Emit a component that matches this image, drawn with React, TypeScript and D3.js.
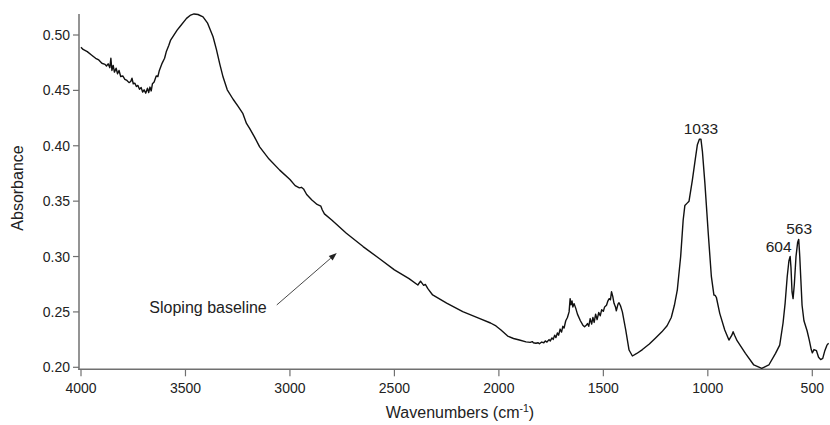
import React from "react";
import * as d3 from "d3";

// Spectrum (wavenumber in cm-1, absorbance)
const wavenumber = [
  4000, 3990, 3970, 3950, 3930, 3915, 3900, 3885, 3878, 3870, 3862, 3857, 3852, 3846, 3840, 3832, 3825, 3818, 3810, 3800,
  3790, 3780, 3770, 3762, 3756, 3750, 3742, 3735, 3728, 3720, 3712, 3705, 3698, 3690, 3682, 3676, 3670, 3664, 3658, 3650,
  3640, 3632, 3625, 3612, 3600, 3592, 3580, 3571, 3564, 3540, 3527, 3495, 3475, 3459, 3440, 3416, 3395, 3368, 3352, 3336,
  3320, 3300, 3272, 3248, 3225, 3208, 3193, 3170, 3145, 3100, 3049, 3000, 2975, 2955, 2945, 2935, 2920, 2895, 2870, 2860,
  2852, 2845, 2835, 2800, 2730, 2650, 2571, 2500, 2430, 2388, 2375, 2368, 2360, 2352, 2340, 2317, 2250, 2173, 2094, 2040,
  2014, 1990, 1958, 1930, 1902, 1870, 1850, 1840, 1835, 1823, 1812, 1806, 1795, 1785, 1778, 1770, 1760, 1754, 1746, 1740,
  1733, 1727, 1720, 1714, 1707, 1700, 1694, 1688, 1680, 1672, 1664, 1659, 1655, 1650, 1646, 1640, 1632, 1624, 1610, 1598,
  1590, 1582, 1576, 1570, 1563, 1556, 1550, 1544, 1537, 1530, 1522, 1515, 1508, 1500, 1494, 1485, 1478, 1472, 1466, 1461,
  1455, 1449, 1442, 1438, 1430, 1425, 1418, 1409, 1393, 1377, 1361, 1340, 1313, 1280, 1250, 1220, 1195, 1175, 1160, 1146,
  1130, 1118, 1110, 1100, 1090, 1074, 1060, 1050, 1040, 1033, 1026, 1014, 998, 983, 971, 965, 959, 943, 919, 899,
  885, 879, 872, 860, 820, 780, 742, 708, 676, 656, 640, 630, 620, 612, 606, 602, 597, 592, 586, 578,
  570, 565, 560, 555, 549, 540, 525, 515, 505, 500, 492, 480, 470, 460, 450, 440, 430, 422,
];
const absorbance = [
  0.489, 0.487, 0.485, 0.482, 0.479, 0.4775, 0.4745, 0.4735, 0.472, 0.474, 0.4705, 0.479, 0.468, 0.4725, 0.4665, 0.47, 0.465, 0.468, 0.4625, 0.463,
  0.46, 0.459, 0.457, 0.458, 0.461, 0.456, 0.4565, 0.4535, 0.4545, 0.451, 0.4525, 0.4485, 0.4505, 0.4475, 0.452, 0.448, 0.453, 0.4495, 0.456, 0.4575,
  0.463, 0.4625, 0.468, 0.4744, 0.479, 0.4848, 0.4905, 0.4954, 0.4975, 0.5044, 0.5074, 0.515, 0.518, 0.519, 0.5185, 0.5164, 0.511, 0.4984, 0.487, 0.474,
  0.462, 0.4505, 0.442, 0.4355, 0.429, 0.4202, 0.4157, 0.408, 0.399, 0.388, 0.378, 0.3695, 0.364, 0.362, 0.3625, 0.361, 0.356, 0.351, 0.347, 0.3462,
  0.3455, 0.342, 0.3385, 0.333, 0.321, 0.309, 0.298, 0.288, 0.28, 0.2743, 0.2778, 0.276, 0.274, 0.2748, 0.271, 0.2653, 0.258, 0.2502, 0.2442, 0.24,
  0.2373, 0.2337, 0.2282, 0.226, 0.2246, 0.223, 0.2225, 0.2232, 0.2222, 0.2217, 0.2222, 0.2212, 0.2228, 0.2222, 0.2238, 0.2228, 0.225, 0.2238, 0.2265, 0.2252,
  0.229, 0.2268, 0.231, 0.229, 0.2345, 0.2318, 0.237, 0.2355, 0.242, 0.245, 0.25, 0.262, 0.2565, 0.26, 0.2545, 0.2575, 0.2532, 0.248, 0.242, 0.238,
  0.2366, 0.238, 0.2395, 0.237, 0.244, 0.239, 0.245, 0.2405, 0.248, 0.243, 0.2495, 0.2465, 0.252, 0.2505, 0.2545, 0.256, 0.26, 0.262, 0.261, 0.2682,
  0.264, 0.2578, 0.2545, 0.251, 0.257, 0.2583, 0.2555, 0.25, 0.2337, 0.2156, 0.2102, 0.2125, 0.216, 0.221, 0.2265, 0.232, 0.2375, 0.245, 0.256, 0.27,
  0.3, 0.333, 0.346, 0.348, 0.35, 0.369, 0.388, 0.401, 0.406, 0.406, 0.395, 0.366, 0.321, 0.2818, 0.2653, 0.265, 0.263, 0.2487, 0.2337, 0.2246,
  0.229, 0.2321, 0.229, 0.224, 0.2126, 0.2021, 0.1991, 0.2021, 0.2126, 0.22, 0.24, 0.258, 0.282, 0.296, 0.3, 0.29, 0.268, 0.262, 0.275, 0.3,
  0.313, 0.3155, 0.3, 0.28, 0.256, 0.242, 0.233, 0.225, 0.216, 0.213, 0.216, 0.215, 0.209, 0.207, 0.208, 0.215, 0.22, 0.2217,
];

const xTicks = [4000, 3500, 3000, 2500, 2000, 1500, 1000, 500];
const yTicks = [0.2, 0.25, 0.3, 0.35, 0.4, 0.45, 0.5];

const peakWavenumbers = [1033, 604, 563];
const peakAbsorbances = [0.406, 0.3, 0.3155];
const peakLabels = ["1033", "604", "563"];

const annotationText = "Sloping baseline";
const arrowFrom = [3063, 0.2563];
const arrowTo = [2776, 0.3032];
const annotationAt = [3111, 0.249];

const FONT = "'Liberation Sans', Arial, Helvetica, sans-serif";

export default function App() {
  const W = 830;
  const H = 425;
  const x = d3.scaleLinear().domain([4000, 500]).range([81, 812.3]);
  const y = d3.scaleLinear().domain([0.2, 0.5]).range([367.3, 35]);
  const axisX = 79;
  const axisY = 369.3;
  const axisColor = "#707070";

  const pts = wavenumber.map((w, i) => [w, absorbance[i]] as [number, number]);
  const line = d3
    .line<[number, number]>()
    .x((d) => x(d[0]))
    .y((d) => y(d[1]));

  const ax0 = x(arrowFrom[0]);
  const ay0 = y(arrowFrom[1]);
  const ax1 = x(arrowTo[0]);
  const ay1 = y(arrowTo[1]);
  const ang = Math.atan2(ay1 - ay0, ax1 - ax0);
  const hl = 8;
  const hw = 3;
  const bx = ax1 - hl * Math.cos(ang);
  const by = ay1 - hl * Math.sin(ang);
  const head = `M${ax1},${ay1} L${bx + hw * Math.sin(ang)},${by - hw * Math.cos(ang)} L${bx - hw * Math.sin(ang)},${by + hw * Math.cos(ang)} Z`;

  return (
    <svg
      width={W}
      height={H}
      style={{ position: "absolute", left: 0, top: 0, background: "#fff" }}
      fontFamily={FONT}
    >
      {/* axes */}
      <line x1={axisX} y1={14} x2={axisX} y2={axisY + 0.75} stroke={axisColor} strokeWidth={1.5} />
      <line x1={axisX - 0.75} y1={axisY} x2={830} y2={axisY} stroke={axisColor} strokeWidth={1.5} />
      {yTicks.map((t) => (
        <g key={"y" + t}>
          <line x1={axisX - 6} x2={axisX} y1={y(t)} y2={y(t)} stroke={axisColor} strokeWidth={1.2} />
          <text x={axisX - 9} y={y(t)} dy="0.36em" textAnchor="end" fontSize={14} fill="#222">
            {t.toFixed(2)}
          </text>
        </g>
      ))}
      {xTicks.map((t) => (
        <g key={"x" + t}>
          <line x1={x(t)} x2={x(t)} y1={axisY} y2={axisY + 7} stroke={axisColor} strokeWidth={1.2} />
          <text x={x(t)} y={393} textAnchor="middle" fontSize={14} fill="#222">
            {t}
          </text>
        </g>
      ))}
      <text x={460} y={418} textAnchor="middle" fontSize={16} fill="#222">
        Wavenumbers (cm
        <tspan fontSize={10.5} dy={-6}>-1</tspan>
        <tspan dy={6}>)</tspan>
      </text>
      <text transform="translate(23,188) rotate(-90)" textAnchor="middle" fontSize={16} fill="#222">
        Absorbance
      </text>

      {/* spectrum */}
      <path d={line(pts) || ""} fill="none" stroke="#111" strokeWidth={1.4} strokeLinejoin="round" />

      {/* peak labels */}
      {peakLabels.map((lab, i) => (
        <text
          key={lab}
          x={x(peakWavenumbers[i]) + (i === 1 ? 1 : 0)}
          y={y(peakAbsorbances[i]) - 5}
          textAnchor={i === 1 ? "end" : "middle"}
          fontSize={15.5}
          fill="#222"
        >
          {lab}
        </text>
      ))}

      {/* annotation */}
      <text x={x(annotationAt[0])} y={y(annotationAt[1])} textAnchor="end" fontSize={16} fill="#222">
        {annotationText}
      </text>
      <line x1={ax0} y1={ay0} x2={bx} y2={by} stroke="#333" strokeWidth={0.9} />
      <path d={head} fill="#222" />
    </svg>
  );
}
